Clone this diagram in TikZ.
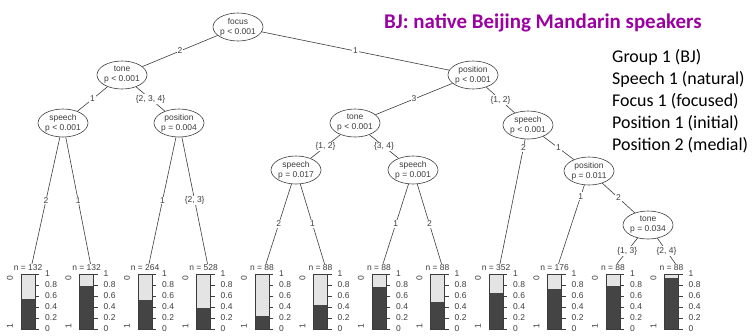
\documentclass[tikz,border=0pt]{standalone}
\usepackage{fontspec}
\setmainfont{Liberation Sans}
\newfontfamily\calfont{Carlito}
\usetikzlibrary{shapes.geometric}
\definecolor{bjpurple}{RGB}{155,0,160}
\definecolor{bardark}{RGB}{68,68,68}
\definecolor{barlight}{RGB}{228,228,228}
\definecolor{treegray}{RGB}{60,60,60}

\begin{document}
\begin{tikzpicture}[x=1bp,y=-1bp,
  split/.style={ellipse,draw=treegray,line width=0.6bp,inner sep=-1.5bp,
    minimum width=50bp,minimum height=28bp,align=center,text=treegray,
    font=\fontsize{8.5}{10}\selectfont},
  elab/.style={fill=white,inner sep=0.8bp,text=treegray,font=\fontsize{8.5}{10}\selectfont},
  small/.style={inner sep=0bp,text=treegray,font=\fontsize{8.5}{10}\selectfont},
  barline/.style={draw=treegray,line width=0.6bp},
  every edge/.style={draw=treegray,line width=0.6bp}]
\useasboundingbox (0,0) rectangle (752,335);

% title and legend
\node[anchor=base west,inner sep=0,text=bjpurple,font=\calfont\bfseries\fontsize{21}{24}\selectfont]
  (title) at (384,28) {BJ: native Beijing Mandarin speakers};
\node[anchor=north west,inner sep=0,align=left,font=\calfont\fontsize{18}{22}\selectfont]
  (legend) at (612,49.5) {Group 1 (BJ)\\Speech 1 (natural)\\Focus 1 (focused)\\Position 1 (initial)\\Position 2 (medial)};

% inner nodes
\node[split] (focus) at (238,27) {focus\\p < 0.001};
\node[split] (tone1) at (122,75) {tone\\p < 0.001};
\node[split] (pos2) at (473,75) {position\\p < 0.001};
\node[split] (sp1) at (63,123) {speech\\p < 0.001};
\node[split] (pos1) at (179,123) {position\\p = 0.004};
\node[split] (tone2) at (355,123) {tone\\p < 0.001};
\node[split] (sp4) at (528,125) {speech\\p < 0.001};
\node[split] (sp2) at (296,170) {speech\\p = 0.017};
\node[split] (sp3) at (413,170) {speech\\p = 0.001};
\node[split] (pos3) at (589,171) {position\\p = 0.011};
\node[split] (tone3) at (648,225) {tone\\p = 0.034};

% terminal bars
\foreach \i/\nn/\fr in {1/132/.55,2/132/.79,3/264/.53,4/528/.38,5/88/.23,6/88/.44,
                        7/88/.77,8/88/.50,9/352/.65,10/176/.73,11/88/.78,12/88/.93} {
  \pgfmathsetmacro\xl{21+58.5*(\i-1)}
  \fill[barlight] (\xl,274) rectangle ++(14,55);
  \fill[bardark] (\xl,329) rectangle ++(14,-55*\fr);
  \draw[barline] (\xl,274) rectangle ++(14,55);
  \node[small,inner sep=1bp] (n\i) at (\xl+7,268) {n = \nn};
  \node[small,rotate=90] (zero\i) at (\xl-11,278) {0};
  \node[small,rotate=90] (one\i) at (\xl-11,326) {1};
  \foreach \v [count=\k] in {0,0.2,0.4,0.6,0.8,1} {
    \draw[barline] (\xl+14,329-55*\v) -- (\xl+18,329-55*\v);
    \node[small,anchor=west] (t\i-\k) at (\xl+24,329-55*\v) {\v};
  }
}

% splits
\path
  (focus) edge node[elab] {2} (tone1)
  (focus) edge node[elab] {1} (pos2)
  (tone1) edge node[elab] {1} (sp1)
  (tone1) edge node[elab] {\{2, 3, 4\}} (pos1)
  (sp1) edge node[elab] {2} ([xshift=4bp]n1.north)
  (sp1) edge node[elab] {1} ([xshift=4bp]n2.north)
  (pos1) edge node[elab] {1} ([xshift=4bp]n3.north)
  (pos1) edge node[elab] {\{2, 3\}} ([xshift=4bp]n4.north)
  (pos2) edge node[elab] {3} (tone2)
  (pos2) edge node[elab] {\{1, 2\}} (sp4)
  (tone2) edge node[elab] {\{1, 2\}} (sp2)
  (tone2) edge node[elab] {\{3, 4\}} (sp3)
  (sp2) edge node[elab] {2} ([xshift=4bp]n5.north)
  (sp2) edge node[elab] {1} ([xshift=4bp]n6.north)
  (sp3) edge node[elab] {1} ([xshift=4bp]n7.north)
  (sp3) edge node[elab] {2} ([xshift=4bp]n8.north)
  (sp4) edge node[elab,pos=.07] {2} ([xshift=4bp]n9.north)
  (sp4) edge node[elab] {1} (pos3)
  (pos3) edge node[elab,pos=.14] {1} ([xshift=4bp]n10.north)
  (pos3) edge node[elab] {2} (tone3)
  (tone3) edge node[elab] {\{1, 3\}} ([xshift=4bp]n11.north)
  (tone3) edge node[elab] {\{2, 4\}} ([xshift=4bp]n12.north);
\end{tikzpicture}
\end{document}
